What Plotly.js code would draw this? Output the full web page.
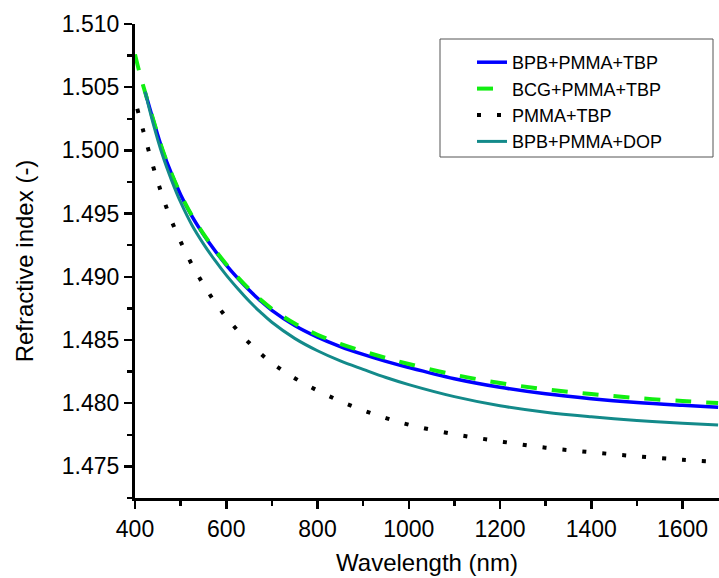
<!DOCTYPE html>
<html>
<head>
<meta charset="utf-8">
<script src="https://cdn.plot.ly/plotly-3.0.1.min.js"></script>
<style>
html,body{margin:0;padding:0;background:#fff;}
#chart{width:719px;height:578px;}
</style>
</head>
<body>
<div id="chart"></div>
<script>
// Series names (legend order)
var seriesNames = ["BPB+PMMA+TBP", "BCG+PMMA+TBP", "PMMA+TBP", "BPB+PMMA+DOP"];

// BPB+PMMA+TBP (blue, solid)
var bpbTbpWl = [422, 440, 460, 480, 500, 525, 550, 575, 600, 625, 650, 675, 700, 750, 800, 850, 900, 950, 1000, 1100, 1200, 1300, 1400, 1500, 1600, 1678];
var bpbTbpN  = [1.50465, 1.50240, 1.50005, 1.49815, 1.49650, 1.49478, 1.49335, 1.49208, 1.49093, 1.48990, 1.48895, 1.48810, 1.48735, 1.48615, 1.48523, 1.48448, 1.48386, 1.48331, 1.48282, 1.48194, 1.48126, 1.48074, 1.48036, 1.48006, 1.47983, 1.47967];

// BCG+PMMA+TBP (green, dashed)
var bcgTbpWl = [400, 411, 422, 440, 460, 480, 500, 525, 550, 575, 600, 625, 650, 675, 700, 750, 800, 850, 900, 950, 1000, 1100, 1200, 1300, 1400, 1500, 1600, 1678];
var bcgTbpN  = [1.50760, 1.50600, 1.50462, 1.50242, 1.50008, 1.49818, 1.49654, 1.49483, 1.49340, 1.49214, 1.49100, 1.48998, 1.48904, 1.48820, 1.48747, 1.48630, 1.48541, 1.48470, 1.48411, 1.48358, 1.48310, 1.48225, 1.48160, 1.48110, 1.48072, 1.48041, 1.48017, 1.48001];

// PMMA+TBP (black, dotted)
var pmmaTbpWl = [405, 420, 440, 460, 480, 500, 525, 550, 575, 600, 625, 650, 675, 700, 750, 800, 850, 900, 950, 1000, 1100, 1200, 1300, 1400, 1500, 1600, 1678];
var pmmaTbpN  = [1.50330, 1.50130, 1.49870, 1.49640, 1.49444, 1.49278, 1.49095, 1.48940, 1.48800, 1.48680, 1.48575, 1.48478, 1.48393, 1.48318, 1.48198, 1.48100, 1.48016, 1.47944, 1.47882, 1.47830, 1.47755, 1.47698, 1.47648, 1.47612, 1.47580, 1.47553, 1.47536];

// BPB+PMMA+DOP (teal, solid)
var bpbDopWl = [422, 440, 460, 480, 500, 525, 550, 575, 600, 625, 650, 675, 700, 750, 800, 850, 900, 950, 1000, 1100, 1200, 1300, 1400, 1500, 1600, 1678];
var bpbDopN  = [1.50465, 1.50210, 1.49965, 1.49765, 1.49590, 1.49408, 1.49261, 1.49131, 1.49013, 1.48907, 1.48808, 1.48720, 1.48640, 1.48513, 1.48415, 1.48335, 1.48268, 1.48203, 1.48147, 1.48052, 1.47980, 1.47928, 1.47892, 1.47863, 1.47841, 1.47827];

// Axis ticks
var xTickVals = [400, 600, 800, 1000, 1200, 1400, 1600];
var yTickVals = [1.475, 1.480, 1.485, 1.490, 1.495, 1.500, 1.505, 1.510];

var FONT = "Liberation Sans, Arial, sans-serif";

var traces = [
  {x: bpbTbpWl, y: bpbTbpN, name: seriesNames[0], mode: "lines",
   line: {color: "#0000ff", width: 3.5, shape: "spline", smoothing: 1}},
  {x: bcgTbpWl, y: bcgTbpN, name: seriesNames[1], mode: "lines",
   line: {color: "#11ee11", width: 4, dash: "16px,15px", shape: "spline", smoothing: 1}},
  {x: pmmaTbpWl, y: pmmaTbpN, name: seriesNames[2], mode: "lines",
   line: {color: "#000000", width: 4, dash: "4px,16px", shape: "spline", smoothing: 1}},
  {x: bpbDopWl, y: bpbDopN, name: seriesNames[3], mode: "lines",
   line: {color: "#138a8a", width: 3, shape: "spline", smoothing: 1}}
];

// plot area in pixels: left 135, right 719, top 24, bottom 498
var W = 719, H = 578, L = 135, R = 0, T = 24, B = 80;
var pw = W - L - R, ph = H - T - B;
function px2x(p){ return (p - L) / pw; }
function py2y(p){ return (H - B - p) / ph; }

var layout = {
  width: W, height: H,
  margin: {l: L, r: R, t: T, b: B, pad: 0},
  paper_bgcolor: "#ffffff", plot_bgcolor: "#ffffff",
  font: {family: FONT, color: "#000"},
  showlegend: true,
  legend: {
    x: px2x(472), y: py2y(44), xanchor: "left", yanchor: "top",
    bgcolor: "rgba(0,0,0,0)", borderwidth: 0,
    font: {family: FONT, size: 18, color: "#000"}
  },
  shapes: [{
    type: "rect", xref: "paper", yref: "paper", layer: "above",
    x0: px2x(440), x1: px2x(713), y0: py2y(157), y1: py2y(39),
    line: {color: "#555555", width: 1}, fillcolor: "#ffffff"
  }],
  xaxis: {
    range: [400, 1680], autorange: false,
    tickvals: xTickVals, ticktext: xTickVals.map(String),
    ticks: "outside", ticklen: 8, tickwidth: 2.5, tickcolor: "#000",
    minor: {dtick: 100, tick0: 400, ticks: "outside", ticklen: 5, tickwidth: 2.5, tickcolor: "#000"},
    showline: true, linewidth: 3, linecolor: "#000",
    showgrid: false, zeroline: false,
    tickfont: {family: FONT, size: 23, color: "#000"},
    title: {text: "Wavelength (nm)", font: {family: FONT, size: 24, color: "#000"}, standoff: 14},
    automargin: false
  },
  yaxis: {
    range: [1.4725, 1.510], autorange: false,
    tickvals: yTickVals, ticktext: yTickVals.map(function(v){return v.toFixed(3);}),
    ticks: "outside", ticklen: 8, tickwidth: 2.5, tickcolor: "#000",
    minor: {dtick: 0.0025, tick0: 1.4725, ticks: "outside", ticklen: 5, tickwidth: 2.5, tickcolor: "#000"},
    showline: true, linewidth: 3, linecolor: "#000",
    showgrid: false, zeroline: false,
    tickfont: {family: FONT, size: 23, color: "#000"},
    title: {text: "Refractive index (-)", font: {family: FONT, size: 24, color: "#000"}, standoff: 22},
    automargin: false
  }
};

Plotly.newPlot("chart", traces, layout, {displayModeBar: false, staticPlot: true});
</script>
</body>
</html>
